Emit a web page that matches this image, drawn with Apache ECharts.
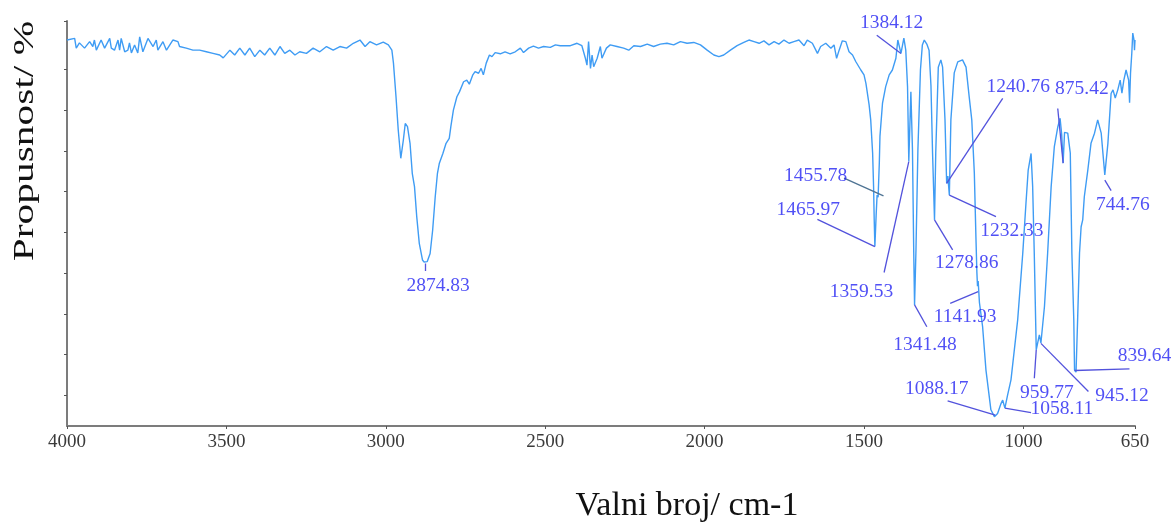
<!DOCTYPE html>
<html><head><meta charset="utf-8">
<script src="https://cdn.jsdelivr.net/npm/echarts@6/dist/echarts.min.js"></script>
<style>html,body{margin:0;padding:0;background:#fff;} #c{width:1174px;height:525px;}</style>
</head><body><div id="c"></div>
<script>
// Wavenumber (cm-1) and transmittance (arbitrary %, axis 0..100)
const wavenumbers = [
4000,3976,3971,3961,3945,3929,3919,3914,3908,3893,3882,3866,3861,3851,3840,3835,3830,3819,3809,3804,
3798,3788,3778,3772,3762,3746,3730,3720,3715,3699,3688,3668,3652,3647,3626,3605,3584,3563,3542,3521,
3510,3489,3474,3458,3442,3427,3411,3395,3380,3364,3348,3332,3317,3301,3285,3270,3249,3228,3207,3186,
3165,3144,3123,3102,3081,3065,3050,3029,3008,2992,2981,2976,2968,2961,2953,2950,2945,2939,2932,2924,
2917,2910,2903,2895,2885,2880,2874.83,2870,2861,2853,2845,2838,2832,2821,2811,2801,2796,2788,2777,2769,
2756,2746,2738,2727,2720,2709,2701,2694,2685,2675,2667,2657,2641,2626,2610,2594,2578,2568,2552,2537,
2521,2505,2484,2468,2453,2421,2400,2385,2374,2369,2364,2358,2353,2348,2337,2327,2322,2317,2308,2296,
2275,2254,2238,2222,2201,2180,2160,2139,2118,2097,2076,2055,2034,2013,1992,1971,1955,1940,1919,1898,
1877,1861,1845,1829,1814,1798,1782,1767,1751,1735,1720,1704,1688,1678,1662,1646,1636,1620,1604,1594,
1586,1578,1568,1557,1547,1536,1526,1510,1500,1494,1484,1479,1473,1470,1468,1465.97,1462,1459,1455.78,1452,
1450,1442,1432,1421,1411,1400,1394,1384.12,1375,1369,1363.5,1359.53,1353,1348,1344,1341.48,1337,1331,1323,1317,
1311,1303,1296,1290,1285,1278.86,1275,1267,1259,1253.5,1246,1240.76,1237,1232.33,1227.5,1217,1206,1191,1180,1170,
1162,1154,1149,1146,1144,1141.93,1138,1128,1117.5,1102,1091,1088.17,1081,1070,1065,1058.11,1050,1039,1018,1002,
992,985,976,971,966,959.77,950,945.12,934,924,913,903,892,885,880,875.42,871,861,853,848,
842,839.64,835,830,824,819,814,809,798,788,777,767,756,744.76,735,725,719,712,704,696.5,
691,685,678,670,667,664,660,657,653,651.6,650
];
const transmittance = [
95.3,95.7,93.3,94.6,93.3,94.9,93.7,95.3,92.8,95.3,93.3,95.7,93.3,92.8,95.3,92.8,95.7,92.4,92.8,94.6,
92.1,94.1,92.1,96.1,92.4,95.7,93.7,95.3,92.8,94.9,92.8,95.3,94.9,93.7,93.3,92.8,92.8,92.4,92.0,91.6,
90.9,92.8,91.6,93.3,91.6,93.3,91.2,92.8,91.6,93.3,91.6,93.7,92.0,92.8,91.6,92.4,92.0,93.3,92.4,93.7,
92.8,93.7,93.3,94.5,95.3,93.7,94.9,94.1,94.8,94.1,92.8,89.6,81.3,73.1,66.1,66.2,70.6,74.7,73.9,69.8,
62.4,59.1,51.7,45.1,41.0,40.5,40.1,40.6,42.6,48.4,56.6,62.4,64.9,67.3,69.8,71.0,73.9,78.0,81.3,82.5,
85.0,85.4,84.4,86.7,87.5,87.1,88.3,86.7,89.6,91.6,91.2,92.2,91.9,92.4,91.9,92.4,93.3,92.2,93.3,93.8,
93.3,93.7,93.5,94.1,93.9,93.9,94.5,93.9,90.8,89.1,94.9,88.3,91.6,88.7,90.8,93.7,90.8,90.4,93.3,94.1,
93.7,93.3,92.8,93.9,93.7,94.3,93.7,94.3,94.5,94.1,94.9,94.5,94.7,94.1,92.8,91.6,91.2,91.6,92.8,93.9,
94.7,95.3,94.9,94.5,95.1,94.1,94.9,94.3,95.3,94.5,94.9,95.3,93.9,95.3,94.5,92.0,93.7,94.5,93.3,94.1,
90.8,92.8,95.1,94.9,92.4,91.6,90.0,87.9,86.7,84.6,79.3,75.6,67.4,59.1,50.9,44.3,52.0,57.0,56.5,65.0,
71.5,79.7,83.8,86.7,87.9,90.8,95.3,92.0,95.8,92.8,83.8,65.3,82.5,68.1,42.7,29.9,43.5,68.1,87.9,94.1,
95.3,94.3,92.8,84.0,67.4,50.9,67.4,88.6,90.4,88.6,75.6,59.9,61.7,57.0,75.6,87.2,89.9,90.4,88.6,81.2,
75.6,62.5,46.7,38.0,34.5,35.8,30.5,24.5,13.8,4.0,2.3,2.2,3.1,5.6,6.4,4.4,7.5,11.4,26.2,42.7,
55.0,63.2,67.3,59.1,42.7,18.8,22.5,20.5,29.5,42.7,59.1,69.0,73.9,76.0,72.0,64.9,72.5,72.3,67.4,42.7,
26.2,13.8,13.3,26.2,42.7,49.2,50.9,56.6,63.2,69.8,72.3,75.6,72.3,62.0,69.8,82.1,83.0,81.0,83.0,85.4,
82.2,85.4,87.9,85.4,79.8,87.2,92.1,97.0,95.3,92.8,95.3
];
const xTickValues = [4000, 3500, 3000, 2500, 2000, 1500, 1000, 650];
const yTickValues = [7.6, 17.65, 27.7, 37.75, 47.8, 57.85, 67.9, 77.95, 88.0, 100];

// Peak annotations: text, point on the curve, end of leader, label centre (data units)
const peakLabels = ['2874.83','1384.12','1455.78','1465.97','1359.53','1341.48','1278.86','1240.76','1232.33',
  '1141.93','1088.17','1058.11','959.77','945.12','839.64','875.42','744.76'];
const peakPoints = [[2874.83,40.1],[1384.12,92.0],[1438.9,56.8],[1465.97,44.3],[1359.53,65.3],[1341.48,29.9],
  [1278.86,50.9],[1240.76,59.9],[1232.33,57.0],[1141.93,33.2],[1088.17,2.7],[1058.11,4.4],[959.77,18.8],
  [945.12,20.4],[839.64,13.7],[875.42,64.9],[744.76,60.7]];
const leaderEnds = [[2874.83,38.3],[1460,96.5],[1562.7,61.2],[1646.2,51.0],[1437,37.9],[1302.9,24.5],
  [1222.1,43.5],[1065,80.9],[1086.1,51.7],[1229.7,30.3],[1237.8,6.2],[976.1,3.3],[965.8,11.8],
  [796.1,8.5],[667.3,14.1],[892.3,78.4],[724.8,58.1]];
const labelPositions = [[2836,34.7],[1413.4,99.5],[1651.6,61.7],[1675,53.3],[1507.7,33.2],[1308.6,20.0],
  [1177.8,40.2],[1016.3,83.8],[1036.4,48.1],[1182.9,27.0],[1272,9.1],[879.3,4.2],[926.5,8.3],
  [690.8,7.5],[620.1,17.2],[816.5,83.2],[688,54.7]];

const chart = echarts.init(document.getElementById('c'), null, {renderer: 'canvas'});
const serif = '"Liberation Serif", "Times New Roman", serif';
const axisGray = '#7c7c7c';

chart.setOption({
  animation: false,
  backgroundColor: '#ffffff',
  grid: {left: 67, right: 39, top: 21, bottom: 99, containLabel: false},
  xAxis: {
    type: 'value', inverse: true, min: 650, max: 4000,
    axisLine: {show: true, onZero: false, lineStyle: {color: axisGray, width: 2}},
    axisTick: {show: true, length: 3, customValues: xTickValues, lineStyle: {color: '#555', width: 1}},
    axisLabel: {show: true, customValues: xTickValues, margin: 7, color: '#3a3a3a',
      fontFamily: serif, fontSize: 19, formatter: v => String(v)},
    splitLine: {show: false}
  },
  yAxis: {
    type: 'value', min: 0, max: 100,
    axisLine: {show: true, onZero: false, lineStyle: {color: axisGray, width: 2}},
    axisTick: {show: true, length: 3, customValues: yTickValues, lineStyle: {color: '#555', width: 1}},
    axisLabel: {show: false},
    splitLine: {show: false}
  },
  series: [
    {
      type: 'line',
      data: wavenumbers.map((w, i) => [w, transmittance[i]]),
      showSymbol: false, symbol: 'none', smooth: false,
      lineStyle: {color: '#3f9cf4', width: 1.4},
      z: 2
    },
    {
      type: 'lines', coordinateSystem: 'cartesian2d', polyline: false,
      data: peakLabels.map((t, i) => ({
        coords: [peakPoints[i], leaderEnds[i]],
        lineStyle: {color: t === '1455.78' ? '#4e7393' : '#5252dc'}
      })),
      lineStyle: {width: 1.3, opacity: 1},
      silent: true, z: 3
    },
    {
      type: 'scatter', clip: false, symbolSize: 0, silent: true,
      data: peakLabels.map((t, i) => ({name: t, value: labelPositions[i]})),
      label: {show: true, position: 'inside', formatter: '{b}', color: '#2424f2',
        fontFamily: serif, fontSize: 19.5},
      z: 4
    }
  ],
  graphic: [
    {type: 'text', x: 687, y: 506, silent: true,
      style: {text: 'Valni broj/ cm-1', font: '34px ' + serif, fill: '#111', align: 'center', verticalAlign: 'middle'}},
    {type: 'text', x: 25, y: 141, rotation: Math.PI / 2, scaleX: 1.38, silent: true,
      style: {text: 'Propusnost/ %', font: '30px ' + serif, fill: '#111', align: 'center', verticalAlign: 'middle'}}
  ]
});
</script></body></html>
